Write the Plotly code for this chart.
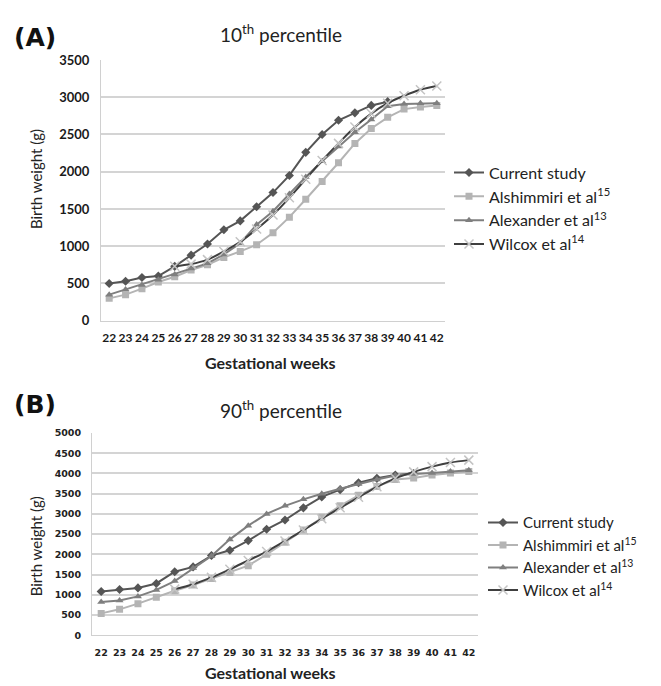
import plotly.graph_objects as go

weeks = list(range(22, 43))
week_labels = [str(w) for w in weeks]

# Panel A: 10th percentile
a_current = [500, 530, 580, 600, 730, 880, 1030, 1220, 1340, 1530, 1720, 1950, 2260, 2500, 2690, 2790, 2890, 2940]
a_alshimmiri = [300, 350, 430, 520, 590, 680, 750, 850, 930, 1020, 1180, 1390, 1630, 1870, 2120, 2380, 2580, 2730, 2840, 2870, 2890]
a_alexander = [350, 420, 480, 550, 620, 700, 770, 890, 1040, 1290, 1470, 1700, 1930, 2140, 2340, 2530, 2700, 2880, 2910, 2920, 2920]
a_wilcox_weeks = list(range(26, 43))
a_wilcox = [730, 760, 820, 930, 1060, 1230, 1420, 1650, 1900, 2150, 2380, 2600, 2780, 2920, 3020, 3100, 3150]

# Panel B: 90th percentile
b_current = [1080, 1130, 1170, 1280, 1570, 1690, 1970, 2100, 2340, 2620, 2850, 3150, 3420, 3600, 3770, 3880, 3960, 4000]
b_alshimmiri = [540, 640, 780, 940, 1100, 1240, 1400, 1550, 1720, 2000, 2300, 2600, 2920, 3200, 3460, 3680, 3850, 3890, 3960, 4010, 4050]
b_alexander = [820, 860, 960, 1120, 1340, 1660, 1960, 2370, 2710, 3000, 3200, 3360, 3500, 3620, 3740, 3850, 3950, 3990, 4010, 4050, 4080]
b_wilcox_weeks = list(range(26, 43))
b_wilcox = [1140, 1260, 1430, 1630, 1850, 2070, 2330, 2600, 2880, 3150, 3410, 3670, 3880, 4040, 4170, 4270, 4330]

names = ["Current study", "Alshimmiri et al<sup>15</sup>", "Alexander et al<sup>13</sup>", "Wilcox et al<sup>14</sup>"]

C_CUR = "#555555"
C_ALS = "#b4b4b4"
C_ALX = "#7f7f7f"
C_WIL = "#3f3f3f"
C_WILM = "#c4c4c4"

fig = go.Figure()

def add_panel(cur, als, alx, wweeks, wil, xa, ya, leg, msize):
    fig.add_trace(go.Scatter(x=weeks[:len(cur)], y=cur, name=names[0], mode="lines+markers",
                             line=dict(color=C_CUR, width=2), marker=dict(symbol="diamond", size=msize, color=C_CUR),
                             xaxis=xa, yaxis=ya, legend=leg))
    fig.add_trace(go.Scatter(x=weeks, y=als, name=names[1], mode="lines+markers",
                             line=dict(color=C_ALS, width=2), marker=dict(symbol="square", size=msize, color=C_ALS),
                             xaxis=xa, yaxis=ya, legend=leg))
    fig.add_trace(go.Scatter(x=weeks, y=alx, name=names[2], mode="lines+markers",
                             line=dict(color=C_ALX, width=2), marker=dict(symbol="triangle-up", size=msize, color=C_ALX),
                             xaxis=xa, yaxis=ya, legend=leg))
    fig.add_trace(go.Scatter(x=wweeks, y=wil, name=names[3], mode="lines+markers",
                             line=dict(color=C_WIL, width=2, shape="spline"),
                             marker=dict(symbol="x-thin", size=msize + 2, line=dict(color=C_WILM, width=1.5)),
                             xaxis=xa, yaxis=ya, legend=leg))

add_panel(a_current, a_alshimmiri, a_alexander, a_wilcox_weeks, a_wilcox, "x", "y", "legend", 7)
add_panel(b_current, b_alshimmiri, b_alexander, b_wilcox_weeks, b_wilcox, "x2", "y2", "legend2", 7)

W, H = 661, 686
def xd(l, r):
    return [l / W, r / W]
def yd(t, b):
    return [1 - b / H, 1 - t / H]

axis_common = dict(showgrid=False, zeroline=False, showline=True, linecolor="#d0d0d0", linewidth=1,
                   ticks="", tickmode="array", tickvals=weeks, ticktext=week_labels, range=[21.5, 42.5],
                   tickangle=0)

fig.update_layout(
    width=W, height=H, margin=dict(l=0, r=0, t=0, b=0),
    paper_bgcolor="white", plot_bgcolor="white",
    font=dict(family="Lato, Open Sans, sans-serif", color="#222222"),
    xaxis=dict(domain=xd(93, 437), anchor="y", ticklabelstandoff=6,
               tickfont=dict(family="Lato", size=12, color="#1a1a1a", weight="bold"), **axis_common),
    yaxis=dict(domain=yd(45, 312), anchor="x", range=[0, 3500], dtick=500, showgrid=True, gridcolor="#d4d4d4",
               gridwidth=1.5, zeroline=False, showline=True, linecolor="#d0d0d0", ticks="", ticklabelstandoff=8,
               tickfont=dict(family="Lato", size=13, color="#1a1a1a", weight="bold")),
    xaxis2=dict(domain=xd(84, 470), anchor="y2", ticklabelstandoff=8,
                tickfont=dict(family="DejaVu Sans", size=9.5, color="#222", weight="bold"), **axis_common),
    yaxis2=dict(domain=yd(427, 634), anchor="x2", range=[0, 5000], dtick=500, showgrid=True, gridcolor="#d4d4d4",
                gridwidth=1.5, zeroline=False, showline=True, linecolor="#d0d0d0", ticks="", ticklabelstandoff=8,
                tickfont=dict(family="DejaVu Sans", size=9.5, color="#222", weight="bold")),
    legend=dict(x=441 / W, y=1 - 143 / H, xanchor="left", yanchor="top", font=dict(family="Lato", size=16, color="#222"),
                bgcolor="rgba(0,0,0,0)", tracegroupgap=0, itemwidth=30),
    legend2=dict(x=475 / W, y=1 - 502 / H, xanchor="left", yanchor="top", font=dict(family="Lato", size=15, color="#222"),
                 bgcolor="rgba(0,0,0,0)", tracegroupgap=0, itemwidth=30),
)

ann = [
    dict(text="<b>(A)</b>", x=4 / W, y=1 - 22 / H, font=dict(family="DejaVu Sans", size=25, color="#111")),
    dict(text="<b>(B)</b>", x=4 / W, y=1 - 398 / H, font=dict(family="DejaVu Sans", size=25, color="#111")),
]
for a in ann:
    fig.add_annotation(xref="paper", yref="paper", xanchor="left", yanchor="middle", showarrow=False, **a)

fig.add_annotation(text="10<sup>th</sup> percentile", xref="paper", yref="paper", x=273 / W, y=1 - 18 / H,
                   xanchor="center", yanchor="middle", showarrow=False, font=dict(family="Lato", size=19, color="#222"))
fig.add_annotation(text="90<sup>th</sup> percentile", xref="paper", yref="paper", x=273 / W, y=1 - 403 / H,
                   xanchor="center", yanchor="middle", showarrow=False, font=dict(family="Lato", size=19, color="#222"))
fig.add_annotation(text="<b>Gestational weeks</b>", xref="paper", yref="paper", x=262 / W, y=1 - 355 / H,
                   xanchor="center", yanchor="middle", showarrow=False, font=dict(family="Lato", size=16, color="#222"))
fig.add_annotation(text="<b>Gestational weeks</b>", xref="paper", yref="paper", x=262 / W, y=1 - 672 / H,
                   xanchor="center", yanchor="middle", showarrow=False, font=dict(family="Lato", size=16, color="#222"))
fig.add_annotation(text="Birth weight (g)", xref="paper", yref="paper", x=28 / W, y=1 - 167 / H, textangle=-90,
                   xanchor="center", yanchor="middle", showarrow=False, font=dict(family="Lato", size=15, color="#222"))
fig.add_annotation(text="Birth weight (g)", xref="paper", yref="paper", x=28 / W, y=1 - 543 / H, textangle=-90,
                   xanchor="center", yanchor="middle", showarrow=False, font=dict(family="Lato", size=15, color="#222"))

fig.write_html("out.html")
